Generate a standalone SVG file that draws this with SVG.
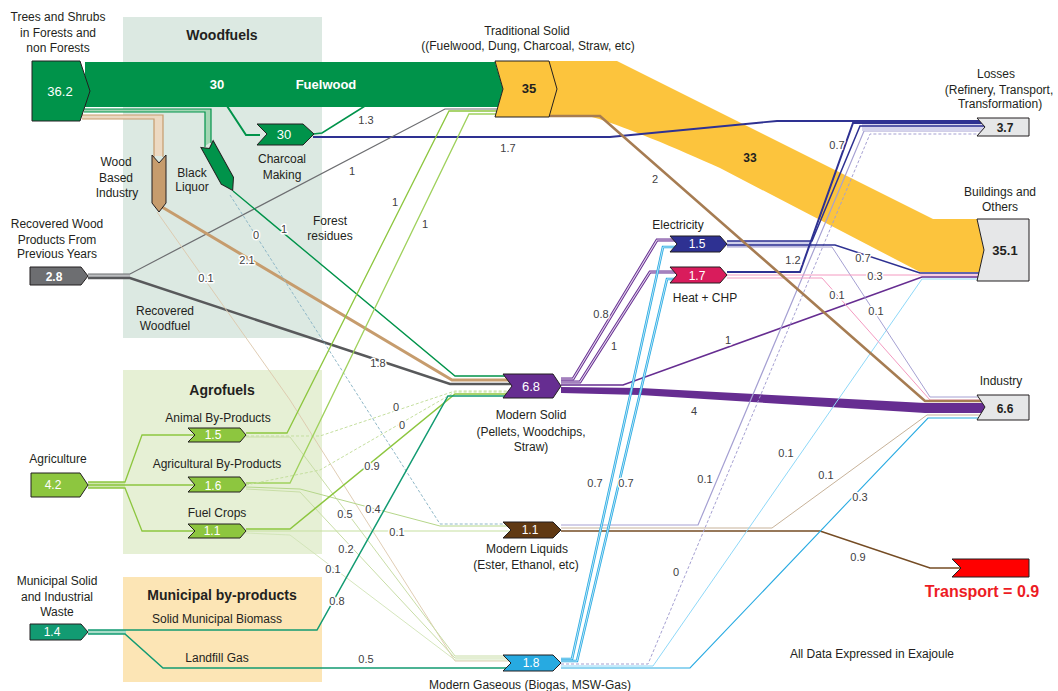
<svg xmlns="http://www.w3.org/2000/svg" width="1058" height="691" viewBox="0 0 1058 691">
<style>
.t{font-family:"Liberation Sans",Arial,sans-serif;font-size:12px;fill:#231f20;text-anchor:middle}
.ttl{font-size:14px;font-weight:bold}
.v{font-family:"Liberation Sans",Arial,sans-serif;font-size:11px;fill:#414042;text-anchor:middle;paint-order:stroke;stroke:#fff;stroke-width:3px;stroke-linejoin:round}
.nw{fill:#fff}
.nb{font-weight:bold}
.nd{stroke:#231f20;stroke-width:1}
.fl{fill:none;stroke-linejoin:miter}
.dash{stroke-dasharray:3,2}
</style>
<rect width="1058" height="691" fill="#fff"/>
<g id="panels">
<rect x="123" y="17" width="199" height="321" fill="#dce9e2"/>
<rect x="123" y="370" width="199" height="184" fill="#e6f0d5"/>
<rect x="123" y="577" width="199" height="105" fill="#fce5b5"/>
<text class="t ttl" x="222" y="40">Woodfuels</text>
<text class="t ttl" x="222" y="395">Agrofuels</text>
<text class="t ttl" x="222" y="600">Municipal by-products</text>
</g>
<g id="connectors" class="fl">
<polygon points="85,62 495,62 503,89 498,107 85,107" fill="#00934a"/>
<path d="M549,61 L617,61 L933,219 L977,219 L984,250 L979,272 L920,272 L720,168 C680,150 620,124 585,115 L549,115 Z" fill="#fcc43d"/>
<polygon points="82,115 163,115 163,156 154,156 154,119 82,119" fill="#ecd9c2"/>
<polyline points="82,115 163,115 163,157" stroke="#c69c6d" stroke-width="1.2"/>
<polyline points="82,119 154,119 154,157" stroke="#c69c6d" stroke-width="1.2"/>
<polygon points="84,109 211,109 211,142 205,146 205,112 84,112" fill="#a3d6b4"/>
<polyline points="84,109 211,109 211,143" stroke="#00934a" stroke-width="1.2"/>
<polyline points="84,112 205,112 205,147" stroke="#00934a" stroke-width="1.2"/>
<polyline points="227,106 246,135 260,135" stroke="#00934a" stroke-width="2"/>
<polyline points="313,134 322,133 365,106" stroke="#00934a" stroke-width="1.5"/>
<polyline points="313,137 610,137 777,121 986,121" stroke="#2e3192" stroke-width="1.8"/>
<rect x="88" y="274" width="42" height="4" fill="#bcbec0"/>
<polyline points="88,274 130,274 445,109 499,109" stroke="#6d6e71" stroke-width="1.2"/>
<polyline points="88,278 130,278 450,384 512,384" stroke="#58595b" stroke-width="2.5"/>
<polyline points="162,207 452,380 512,380" stroke="#c69c6d" stroke-width="3"/>
<polyline points="157,212 290,400 455,661 512,661" stroke="#dcc7ab" stroke-width="0.9"/>
<polyline points="233,191 455,376 512,376" stroke="#00934a" stroke-width="1.4"/>
<polyline class="dash" points="230,195 440,524 512,524" stroke="#8fb8c8" stroke-width="1"/>
<rect x="88" y="482" width="37" height="6" fill="#cfe5ad"/>
<polyline points="88,482 125,482 142,435 196,435" stroke="#8dc63f" stroke-width="1.3"/>
<polyline points="88,485 196,485" stroke="#8dc63f" stroke-width="1.3"/>
<polyline points="88,488 125,488 142,531 196,531" stroke="#8dc63f" stroke-width="1.3"/>
<polyline points="246,433 287,433 449,111 499,111" stroke="#8dc63f" stroke-width="1.3"/>
<polyline class="dash" points="246,436 320,436 455,391 512,391" stroke="#c5df9f" stroke-width="1"/>
<polyline points="246,437 290,437 455,656 512,656" stroke="#c8dda6" stroke-width="1"/>
<polyline points="246,483 290,483 469,114 499,114" stroke="#9fd15c" stroke-width="1.3"/>
<polyline class="dash" points="246,485 320,470 455,392 512,392" stroke="#c5df9f" stroke-width="1"/>
<polyline points="246,487 300,489 440,526 512,526" stroke="#b5d68a" stroke-width="1"/>
<polyline points="246,489 300,492 455,658 512,658" stroke="#c8dda6" stroke-width="1"/>
<polyline points="246,529 290,529 455,394 512,394" stroke="#8dc63f" stroke-width="1.5"/>
<polyline points="246,531 512,531" stroke="#c5df9f" stroke-width="1"/>
<polyline points="246,533 290,535 455,660 512,660" stroke="#d0e3b5" stroke-width="0.9"/>
<rect x="88" y="630" width="38" height="4" fill="#a8dcc8"/>
<polyline points="88,630 317,630 448,396 512,396" stroke="#129b72" stroke-width="1.5"/>
<polyline points="88,634 125,634 163,668 512,668" stroke="#129b72" stroke-width="1.5"/>
<polyline points="561,379 573,379 657,240 678,240" stroke="#662d91" stroke-width="3"/>
<polyline points="561,379 573,379 657,240 678,240" stroke="#e2d6ec" stroke-width="1.1"/>
<polyline points="561,382 580,382 650,272 678,272" stroke="#662d91" stroke-width="3"/>
<polyline points="561,382 580,382 650,272 678,272" stroke="#e2d6ec" stroke-width="1.1"/>
<polyline points="561,385 623,385 922,277 985,277" stroke="#662d91" stroke-width="1.6"/>
<polygon points="561,387 640,388 925,403 986,403 986,413 925,413 640,395 561,393" fill="#662d91"/>
<polyline points="561,525 698,525 864,131 986,131" stroke="#a5a0d2" stroke-width="1.2"/>
<polyline points="561,528 772,528 927,415 986,415" stroke="#c7b299" stroke-width="1"/>
<polyline points="561,531 820,531 930,568 962,568" stroke="#754c24" stroke-width="1.6"/>
<polyline points="561,659 572,659 663,247 678,247" stroke="#29abe2" stroke-width="2.6"/>
<polyline points="561,659 572,659 663,247 678,247" stroke="#c9ebfa" stroke-width="0.9"/>
<polyline points="561,661 577,661 667,279 678,279" stroke="#29abe2" stroke-width="2.6"/>
<polyline points="561,661 577,661 667,279 678,279" stroke="#c9ebfa" stroke-width="0.9"/>
<polyline class="dash" points="561,664 648,664 870,134 986,134" stroke="#a5a0d2" stroke-width="1"/>
<polyline points="561,666 653,666 922,279 985,279" stroke="#8ed8f8" stroke-width="1"/>
<polyline points="561,668 690,668 928,418 986,418" stroke="#29abe2" stroke-width="1.1"/>
<rect x="862" y="123" width="124" height="8" fill="#d5d4ec"/>
<rect x="727" y="241" width="85" height="6" fill="#cfd0ea"/>
<polyline points="727,241 812,241 860,126 986,126" stroke="#2e3192" stroke-width="1.5"/>
<polyline points="727,245 835,245 920,273 985,273" stroke="#2e3192" stroke-width="1.5"/>
<polyline points="727,247 832,247 930,397 986,397" stroke="#a5a0d2" stroke-width="1"/>
<polyline points="727,272 800,272 853,123 986,123" stroke="#2e3192" stroke-width="2"/>
<polyline points="727,275 985,275" stroke="#f49ac1" stroke-width="1"/>
<polyline points="727,278 822,278 930,400 986,400" stroke="#f49ac1" stroke-width="1"/>
<polyline points="549,116 600,116 925,401 986,401" stroke="#a67c52" stroke-width="2.6"/>
</g>
<g id="flow-labels">
<text class="t nw nb" x="217" y="89" style="font-size:13px">30</text>
<text class="t nw nb" x="326" y="89" style="font-size:13px">Fuelwood</text>
<text class="t nb" x="750" y="162">33</text>
<text class="v" x="366" y="124">1.3</text>
<text class="v" x="508" y="152">1.7</text>
<text class="v" x="655" y="183">2</text>
<text class="v" x="837" y="149">0.7</text>
<text class="v" x="352" y="175">1</text>
<text class="v" x="395" y="206">1</text>
<text class="v" x="425" y="228">1</text>
<text class="v" x="284" y="233">1</text>
<text class="v" x="256" y="239">0</text>
<text class="v" x="247" y="264">2.1</text>
<text class="v" x="206" y="282">0.1</text>
<text class="v" x="378" y="367">1.8</text>
<text class="v" x="601" y="318">0.8</text>
<text class="v" x="614" y="350">1</text>
<text class="v" x="793" y="264">1.2</text>
<text class="v" x="863" y="262">0.7</text>
<text class="v" x="875" y="280">0.3</text>
<text class="v" x="837" y="299">0.1</text>
<text class="v" x="876" y="315">0.1</text>
<text class="v" x="728" y="344">1</text>
<text class="v" x="694" y="415">4</text>
<text class="v" x="396" y="411">0</text>
<text class="v" x="402" y="429">0</text>
<text class="v" x="372" y="470">0.9</text>
<text class="v" x="373" y="513">0.4</text>
<text class="v" x="397" y="536">0.1</text>
<text class="v" x="345" y="518">0.5</text>
<text class="v" x="346" y="553">0.2</text>
<text class="v" x="333" y="573">0.1</text>
<text class="v" x="337" y="605">0.8</text>
<text class="v" x="366" y="663">0.5</text>
<text class="v" x="595" y="487">0.7</text>
<text class="v" x="626" y="487">0.7</text>
<text class="v" x="705" y="483">0.1</text>
<text class="v" x="676" y="576">0</text>
<text class="v" x="786" y="457">0.1</text>
<text class="v" x="826" y="479">0.1</text>
<text class="v" x="860" y="501">0.3</text>
<text class="v" x="858" y="561">0.9</text>
<text class="t" x="330" y="225">Forest</text>
<text class="t" x="330" y="240">residues</text>
<text class="t" x="165" y="315">Recovered</text>
<text class="t" x="165" y="330">Woodfuel</text>
<text class="t" x="217" y="623">Solid Municipal Biomass</text>
<text class="t" x="217" y="662">Landfill Gas</text>
</g>
<g id="n-trees">
<polygon class="nd" points="32,61 80,61 90,91 80,121 32,121" fill="#00934a"/>
<text class="t nw" x="60" y="96" style="font-size:13px">36.2</text>
<text class="t" x="58" y="21">Trees and Shrubs</text>
<text class="t" x="58" y="37">in Forests and</text>
<text class="t" x="58" y="52">non Forests</text>
</g>
<g id="n-traditional">
<polygon class="nd" points="495,61 549,61 557,89 549,117 495,117 503,89" fill="#fcc43d"/>
<text class="t nb" x="529" y="93" style="font-size:13px">35</text>
<text class="t" x="527" y="35">Traditional Solid</text>
<text class="t" x="528" y="50">((Fuelwood, Dung, Charcoal, Straw, etc)</text>
</g>
<g id="n-charcoal">
<polygon class="nd" points="257,124 303,124 314,134 303,145 257,145 267,134" fill="#00934a"/>
<text class="t nw" x="284" y="139" style="font-size:13px">30</text>
<text class="t" x="282" y="163">Charcoal</text>
<text class="t" x="282" y="179">Making</text>
</g>
<g id="n-woodind">
<polygon class="nd" points="152,155 159,163 166,155 166,203 159,212 152,203" fill="#c69c6d"/>
<text class="t" x="116" y="166">Wood</text>
<text class="t" x="116" y="182">Based</text>
<text class="t" x="117" y="197">Industry</text>
</g>
<g id="n-blackliquor">
<polygon class="nd" points="-7,0 0,5 7,0 7,42 0,53 -7,42" fill="#00934a" transform="translate(207,144) rotate(-29)"/>
<text class="t" x="192" y="177">Black</text>
<text class="t" x="192" y="191">Liquor</text>
</g>
<g id="n-recovered">
<polygon class="nd" points="30,267 81,267 88,276 81,285 30,285" fill="#6d6e71"/>
<text class="t nw nb" x="54" y="281">2.8</text>
<text class="t" x="57" y="228">Recovered Wood</text>
<text class="t" x="57" y="244">Products From</text>
<text class="t" x="57" y="258">Previous Years</text>
</g>
<g id="n-agriculture">
<polygon class="nd" points="31,473 80,473 88,485 80,497 31,497" fill="#8dc63f"/>
<text class="t nw" x="53" y="489">4.2</text>
<text class="t" x="58" y="463">Agriculture</text>
</g>
<g id="n-animal">
<polygon class="nd" points="188,428 240,428 246,435 240,442 188,442 195,435" fill="#8dc63f"/>
<text class="t nw" x="213" y="439">1.5</text>
<text class="t" x="218" y="422">Animal By-Products</text>
</g>
<g id="n-agbyproducts">
<polygon class="nd" points="188,477 240,477 246,485 240,492 188,492 195,485" fill="#8dc63f"/>
<text class="t nw" x="213" y="490">1.6</text>
<text class="t" x="217" y="468">Agricultural By-Products</text>
</g>
<g id="n-fuelcrops">
<polygon class="nd" points="188,524 240,524 246,531 240,538 188,538 195,531" fill="#8dc63f"/>
<text class="t nw" x="212" y="535">1.1</text>
<text class="t" x="217" y="517">Fuel Crops</text>
</g>
<g id="n-msw">
<polygon class="nd" points="30,624 81,624 88,632 81,640 30,640" fill="#129b72"/>
<text class="t nw" x="52" y="636">1.4</text>
<text class="t" x="57" y="585">Municipal Solid</text>
<text class="t" x="57" y="601">and Industrial</text>
<text class="t" x="57" y="616">Waste</text>
</g>
<g id="n-modernsolid">
<polygon class="nd" points="503,374 553,374 561,386 553,398 503,398 512,386" fill="#662d91"/>
<text class="t nw" x="531" y="391" style="font-size:13px">6.8</text>
<text class="t" x="531" y="419">Modern Solid</text>
<text class="t" x="531" y="436">(Pellets, Woodchips,</text>
<text class="t" x="531" y="451">Straw)</text>
</g>
<g id="n-modernliquids">
<polygon class="nd" points="503,522 553,522 561,530 553,538 503,538 511,530" fill="#603913"/>
<text class="t nw" x="530" y="534">1.1</text>
<text class="t" x="527" y="553">Modern Liquids</text>
<text class="t" x="526" y="569">(Ester, Ethanol, etc)</text>
</g>
<g id="n-moderngaseous">
<polygon class="nd" points="503,655 553,655 561,663 553,671 503,671 511,663" fill="#27aae1"/>
<text class="t nw" x="531" y="667">1.8</text>
<text class="t" x="530" y="689">Modern Gaseous (Biogas, MSW-Gas)</text>
</g>
<g id="n-electricity">
<polygon class="nd" points="670,236 720,236 727,244 720,252 670,252 677,244" fill="#2e3192"/>
<text class="t nw" x="697" y="248">1.5</text>
<text class="t" x="678" y="229">Electricity</text>
</g>
<g id="n-heat">
<polygon class="nd" points="670,267 720,267 727,275 720,283 670,283 677,275" fill="#d91c5c"/>
<text class="t nw" x="697" y="280">1.7</text>
<text class="t" x="705" y="302">Heat + CHP</text>
</g>
<g id="n-losses">
<polygon class="nd" points="977,118 1029,118 1029,136 977,136 985,127" fill="#e6e7e8"/>
<text class="t nb" x="1005" y="132">3.7</text>
<text class="t" x="996" y="78">Losses</text>
<text class="t" x="999" y="94">(Refinery, Transport,</text>
<text class="t" x="1000" y="108">Transformation)</text>
</g>
<g id="n-buildings">
<polygon class="nd" points="977,219 1029,219 1029,281 977,281 984,250" fill="#e6e7e8"/>
<text class="t nb" x="1005" y="255" style="font-size:13px">35.1</text>
<text class="t" x="1000" y="196">Buildings and</text>
<text class="t" x="1000" y="211">Others</text>
</g>
<g id="n-industry">
<polygon class="nd" points="977,395 1029,395 1029,420 977,420 985,407" fill="#e6e7e8"/>
<text class="t nb" x="1005" y="413">6.6</text>
<text class="t" x="1001" y="385">Industry</text>
</g>
<g id="n-transport">
<polygon class="nd" points="952,559 1029,559 1029,577 952,577 961,568" fill="#ff0000"/>
<text class="t nb" x="982" y="597" style="font-size:16px;fill:#ed1c24">Transport = 0.9</text>
</g>
<text class="t" x="872" y="658">All Data Expressed in Exajoule</text>
</svg>
